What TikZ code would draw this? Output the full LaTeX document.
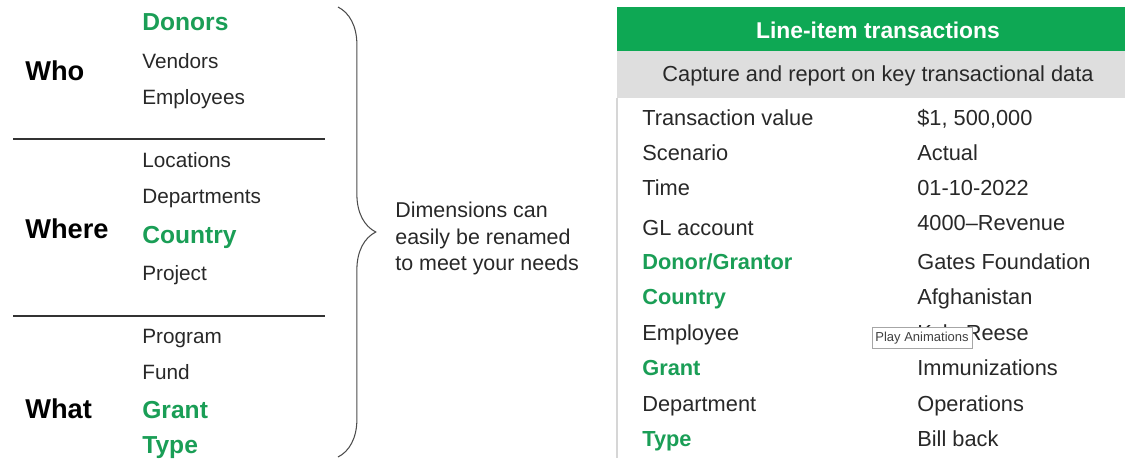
\documentclass[tikz,border=0pt]{standalone}
\usepackage{fontspec}
\setmainfont{Liberation Sans}
\usetikzlibrary{decorations.pathreplacing}
\definecolor{sggreen}{RGB}{14,168,84}
\definecolor{sgtext}{RGB}{26,158,86}
\definecolor{sgdark}{RGB}{40,40,40}
\definecolor{sggrey}{RGB}{222,222,222}
\definecolor{sgedge}{RGB}{214,214,214}
\begin{document}
\begin{tikzpicture}[x=0.02cm,y=-0.02cm,
	group/.style={anchor=base west,inner sep=0pt,text=black,font=\fontsize{15.5}{18}\selectfont\bfseries},
	item/.style={anchor=base west,inner sep=0pt,text=sgdark,font=\fontsize{11.8}{14}\selectfont},
	keyitem/.style={anchor=base west,inner sep=0pt,text=sgtext,font=\fontsize{14}{17}\selectfont\bfseries},
	field/.style={anchor=base west,inner sep=0pt,text=sgdark,font=\fontsize{12.4}{15}\selectfont},
	keyfield/.style={anchor=base west,inner sep=0pt,text=sgtext,font=\fontsize{12.4}{15}\selectfont\bfseries},
	note/.style={anchor=base west,inner sep=0pt,text=sgdark,font=\fontsize{12.2}{15}\selectfont},
	divider/.style={draw=black!80,line width=0.85pt}]
	\useasboundingbox (0,0) rectangle (1125,458);
	% left: dimension groups
	\node[group] (who) at (25,80) {Who};
	\node[group] (where) at (25,238) {Where};
	\node[group] (what) at (25,418) {What};
	\node[keyitem] (donors) at (142,30) {Donors};
	\node[item] (vendors) at (142,68) {Vendors};
	\node[item] (employees) at (142,104) {Employees};
	\node[item] (locations) at (142,167) {Locations};
	\node[item] (departments) at (142,203) {Departments};
	\node[keyitem] (country) at (142,243) {Country};
	\node[item] (project) at (142,280) {Project};
	\node[item] (program) at (142,343) {Program};
	\node[item] (fund) at (142,379) {Fund};
	\node[keyitem] (grant) at (142,418) {Grant};
	\node[keyitem] (type) at (142,453) {Type};
	\draw[divider] (13,139)--(325,139);
	\draw[divider] (13,316)--(325,316);
	% brace and note
	\draw[black!70,line width=0.6pt,decorate,decoration={brace,amplitude=21.5pt}] (338,7)--(338,457);
	\node[note] (dim1) at (395,217) {Dimensions can};
	\node[note] (dim2) at (395,244) {easily be renamed};
	\node[note] (dim3) at (395,270) {to meet your needs};
	% right: transaction table
	\fill[sggreen] (617,7) rectangle (1125,51);
	\fill[sggrey] (617,51) rectangle (1125,98);
	\draw[sgedge,line width=1.2pt] (617,98)--(617,458);
	\node[text=white,font=\fontsize{13}{16}\selectfont\bfseries] (title) at (878,30) {Line-item transactions};
	\node[text=sgdark,font=\fontsize{12.4}{15}\selectfont] (subtitle) at (878,76) {Capture and report on key transactional data};
	\node[field] (tval) at (642,125) {Transaction value};
	\node[field] (scen) at (642,160) {Scenario};
	\node[field] (time) at (642,195) {Time};
	\node[field] (gl) at (642,235) {GL account};
	\node[keyfield] (donor) at (642,269) {Donor/Grantor};
	\node[keyfield] (ctry) at (642,304) {Country};
	\node[field] (emp) at (642,340) {Employee};
	\node[keyfield] (grnt) at (642,375) {Grant};
	\node[field] (dept) at (642,411) {Department};
	\node[keyfield] (typ) at (642,446) {Type};
	\node[field] (tvalv) at (917,125) {\$1, 500,000};
	\node[field] (scenv) at (917,160) {Actual};
	\node[field] (timev) at (917,195) {01-10-2022};
	\node[field] (glv) at (917,230) {4000–Revenue};
	\node[field] (donorv) at (917,269) {Gates Foundation};
	\node[field] (ctryv) at (917,304) {Afghanistan};
	\node[field] (empv) at (917,340) {Kyle Reese};
	\node[field] (grntv) at (917,375) {Immunizations};
	\node[field] (deptv) at (917,411) {Operations};
	\node[field] (typv) at (917,446) {Bill back};
	% tooltip over the table
	\node[draw=black!35,fill=white,line width=0.4pt,text=black!75,font=\fontsize{7.4}{9}\selectfont,
		minimum width=100*0.02cm,minimum height=21*0.02cm,inner sep=0pt] (tip) at (922,338) {Play Animations};
\end{tikzpicture}
\end{document}
